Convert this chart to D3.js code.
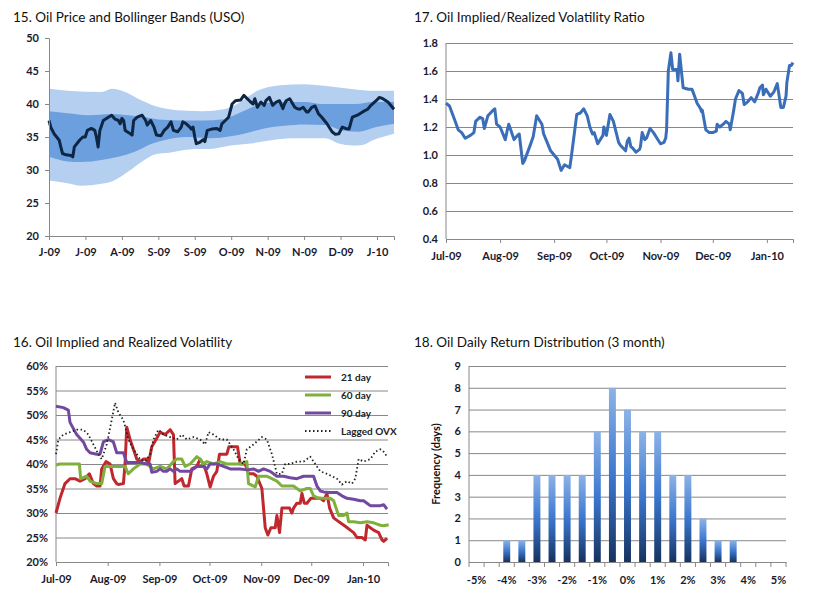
<!DOCTYPE html>
<html><head><meta charset="utf-8">
<script src="https://cdn.jsdelivr.net/npm/d3@7"></script>
<style>
body{margin:0;background:#fff}
text{font-family:Lato,"Open Sans",sans-serif}
.tick text{font-weight:bold;font-size:11px;fill:#1a1a2e}
.title{font-size:13.5px;fill:#111}
</style></head><body>
<script>
// ---- 15. oil price + bollinger (x = trading day index)
let priceIdx = [0,1,2.9,5.9,6.8,7.8,9.8,12.7,13.7,14.6,17.6,19.5,20.9,22.1,24.4,26.4,27.3,28.3,29.3,31.3,34.2,36.1,38.1,40,41,42,43,43.9,46.9,47.9,48.8,50.8,53.7,55.7,56.6,58.6,60.5,61.9,64.5,66.4,68.4,70.3,71.7,74.2,76.2,77.1,79.1,81.1,82,83,84,84.9,86.9,88.9,89.8,91.2,93.8,96.7,98.6,99.6,101.6,103.5,105.5,107.4,110.4,112.3,114.3,116.2,117.6,118.6,120.1,122.1,124,125,127,128.9,130.9,132.8,134.8,135.7,136.7,138.7,141.6,143,144.5,146.5,148.4,149.4,151.4,153.3,155.3,157.2,160.2,163.1,165,167,169,170.9,172.9,174.8,177.7,180.7,183.6,185.5,188.5,190.4,192.4,195.3,198.8];
let priceVal = [37.5,36.5,35.5,34.5,33.5,32.5,32.3,32.2,32,33.5,34.5,35,35,36,36.3,36,35,33.5,36,37.5,38,38.3,37.7,37.5,37,37.8,37.5,36,35.5,35.3,37.5,38,38.3,37.5,36.8,37.5,36.5,35.3,35.2,36,36.5,37.3,36,35.8,36.5,37.3,37,36.5,36.2,36.5,35,34,34.2,34.6,34.3,36,36.2,36.3,36,37,37.5,38,40,40.5,40.6,41.3,40.8,40.3,40,40.8,39.5,40.3,39.8,40.5,41,39.8,40.3,40.5,39.3,40,40.5,40.8,39.5,39.3,39.2,39.5,38.8,38.8,39.5,39.7,38.5,38,37,35.8,35.4,35.5,36.5,36.3,36.2,38,38.3,38.8,39.2,39.8,40.5,41,40.8,40.3,39.2,38.5];
let outerUpIdx = [0,10.7,30.3,36.1,42,53.7,63.5,77.1,88.9,100.6,108.4,120.1,131.8,147.5,157.2,167,176.8,186.5,198.8];
let outerUp = [42.3,42,41.8,42.3,42,40.5,39.5,39,38.9,39.2,40,42,42.8,43,42.8,42.5,42.2,42,42];
let innerUpIdx = [0,10.7,22.5,36.1,45.9,55.7,65.4,77.1,88.9,100.6,108.4,120.1,131.8,147.5,157.2,167,176.8,186.5,198.8];
let innerUp = [38.9,38.6,38.3,38.5,38.3,38,37.6,37.5,37.5,37.7,38.5,39.8,40.3,40.3,40,40,40,40.3,40.3];
let innerLoIdx = [0,10.7,18.6,30.3,40,49.8,59.6,69.3,81.1,92.8,104.5,112.3,124,135.7,147.5,159.2,168.9,178.7,188.5,198.8];
let innerLo = [32,31.3,31.2,31.5,32,32.8,34,34.7,35,34.8,35.1,35.5,36.3,36.7,36.9,36.8,36,35.8,36.5,37];
let outerLoIdx = [0,10.7,18.6,30.3,38.1,45.9,53.7,61.5,69.3,77.1,84.9,92.8,104.5,116.2,127.9,139.6,151.4,159.2,167,174.8,180.7,186.5,198.8];
let outerLo = [28.4,28,27.6,27.9,28.5,29.8,31.3,32.4,32.6,33,33.2,33.2,33.7,34,34.5,34.8,34.8,34.8,34,33.7,33.8,34.5,35.5];
let priceLabels = ["J-09","J-09","A-09","S-09","S-09","O-09","N-09","N-09","D-09","J-10"];

// ---- 17. implied/realized ratio (x = days since 1 Jul 2009)
let ratioDay = [0,2,5,7,9,11,14,16,17,19.5,21,22,24,27,28,29,31,34,35,36,39,41,42,44,45,48,50,52,55,56,57,60,62,64,66,68,69.5,71,72,75,77,79,81,82.5,84,85,87,90,90.5,92,94,96,97,99,100,103,104,105,106,107,109,111,111.5,112.5,114,115,117,119,121,123,125,126,126.5,127.5,129,130,132,132.5,133,134,136,139,141,142,144,146,146.5,147,149,151,153,155,155.5,157,159,160.5,162.5,163,165,166,168,170,171,173,175,177,179,180,181.5,182,183.5,186,188,189,190,192,193.5,195,195.5,197,198,199];
let ratioVal = [1.37,1.35,1.25,1.18,1.16,1.12,1.14,1.16,1.24,1.27,1.26,1.19,1.28,1.32,1.33,1.22,1.2,1.11,1.17,1.22,1.11,1.14,1.15,0.94,0.96,1.06,1.13,1.28,1.22,1.15,1.12,1.03,1.0,0.97,0.89,0.93,0.92,0.91,1.0,1.29,1.3,1.33,1.28,1.2,1.15,1.16,1.08,1.14,1.2,1.14,1.29,1.24,1.19,1.09,1.07,1.03,1.1,1.12,1.06,1.05,1.02,1.04,1.06,1.16,1.11,1.12,1.19,1.16,1.12,1.08,1.09,1.12,1.18,1.6,1.73,1.61,1.61,1.61,1.53,1.72,1.48,1.47,1.47,1.44,1.37,1.33,1.31,1.32,1.18,1.16,1.16,1.17,1.22,1.2,1.22,1.24,1.22,1.18,1.32,1.4,1.46,1.44,1.36,1.38,1.41,1.38,1.44,1.48,1.5,1.43,1.47,1.42,1.45,1.48,1.51,1.34,1.34,1.42,1.52,1.64,1.64,1.66,1.65];

// ---- 16. volatility (x = days since 1 Jul 2009, value in %)
let vol21 = [[0,30],[2.4,33],[5.4,36],[8.4,37],[11.4,37],[14.4,36.5],[17.4,37],[20,38],[22.4,36],[24.4,35.5],[26.4,35.5],[27.4,39],[30,40.5],[32.4,40],[34.4,37],[36.4,36],[37.4,35.8],[40.4,36],[41.4,40],[42.4,47.5],[44.4,45],[46.4,43],[48.4,41],[50.4,40.5],[52.4,41],[54.4,41],[55.4,40],[57.4,43.5],[60,45],[62.4,46.5],[65.4,46],[68.4,47],[70.4,46],[71.4,36],[73.4,36.5],[75.4,37],[76.8,35.5],[79.4,35.5],[81.4,39],[84.4,39.5],[86.4,41],[88.4,40],[90.4,38],[92.4,35.3],[94.4,37.5],[96.4,38.5],[98,42],[100,42],[102.4,42],[103.6,43.5],[106.4,43.5],[108.8,43.5],[110.4,40],[113.4,40],[115.4,38],[118.4,38],[120.4,37.5],[123.4,35],[125.4,27],[127,25.5],[128.8,27],[131.4,27],[132.4,29.5],[134,26],[135.4,31],[137.4,31],[140,31],[141.4,30],[142.4,31],[144.4,32],[146.4,32],[147.4,34],[148.8,32],[150.4,32],[152.8,33],[155.4,33],[158.4,33],[160.4,32.5],[162.4,34],[164,31],[166.4,29],[168.4,28.5],[170.4,28],[173.4,27.3],[176.4,26.5],[178.4,26],[180.4,25],[183.4,25],[185.4,24.5],[186.4,27.5],[188.4,27],[190.4,26.5],[193.4,26],[195.4,24.5],[196.4,24.2],[198.4,24.8]];
let vol60 = [[0,39.8],[2.4,40],[6.4,40],[11.4,40],[14,40],[14.8,37],[18.4,37.5],[20.4,36.5],[24.4,36],[27.4,36],[29.4,39.5],[32.4,39.5],[38.4,39.5],[41.4,39.5],[43.4,38],[46.4,39],[50.4,40],[54.4,40],[56.4,39.5],[58.4,39],[62.4,39.5],[66.4,39],[70.4,40.5],[72.4,41],[75.4,41],[77.4,39.5],[80.4,40],[84.4,41.5],[86.4,41],[88.4,40],[90.4,40.5],[94.4,40],[98.4,40.5],[102.4,40],[106.4,40],[110.4,40],[114.4,40.5],[115.4,36],[118.4,35.5],[119.4,35.3],[121.4,37.5],[124.4,37.5],[126.4,37.5],[129.4,37],[132.4,36.5],[135.4,35.5],[138.4,35.5],[142.4,35.5],[146.4,34.5],[150.4,35],[152.4,35],[154.4,33.5],[157.4,33],[164.4,33],[166.4,32.5],[169.4,29.5],[172.4,29.5],[174.4,30],[175.4,28.2],[178.4,28.2],[182.4,28],[186.4,28.2],[190.4,28],[194.4,27.5],[196.4,27.4],[199.4,27.6]];
let vol90 = [[0,51.8],[4.4,51.5],[7.4,51],[8.4,48.5],[12.4,46],[16.4,44.5],[18.4,43],[20.4,42.3],[24.4,42],[26.4,42],[28.4,44.5],[31.4,45],[34.4,44.5],[36.4,42.3],[40.4,42.3],[42.4,40.3],[50.4,40.3],[54.4,40],[56.4,40],[57.4,38.3],[60.4,38.5],[62.4,39],[64.4,38.5],[66.4,38.5],[68.4,39],[70.4,38.5],[72.4,39],[74.4,38.5],[80.4,38.5],[84.4,39.5],[88.4,39.5],[90.4,39],[92.4,40],[96.4,40],[100.4,39.5],[104.4,39],[110.4,39],[114.4,38.8],[118.4,39],[121.4,38.5],[124.4,39],[128.4,38.5],[132.4,37.5],[136.4,37.5],[140.4,37.2],[144.4,37],[148.4,37.5],[152.4,37.5],[154.4,37.5],[156.4,35.5],[158.4,34.5],[160.4,34.3],[164.4,34.2],[168.4,34.2],[171.4,33.5],[174.4,33],[178.4,32.8],[182.4,32.5],[184.4,32.5],[186.4,32],[188.4,31.5],[192.4,31.5],[194.4,31.5],[196.4,31.7],[198.4,30.8]];
let ovx = [[0,42],[1.4,45],[4.4,46],[8.4,46.5],[12.4,47],[16.4,47],[19.4,46],[22.4,44],[25.4,42],[27.4,41],[30.4,44],[33.4,49],[35.4,52.5],[37.4,50.5],[40.4,49],[43.4,45],[46.4,43],[50.4,41],[53.4,40.5],[56.4,42],[58.4,45],[61.4,47],[64.4,46],[68.4,45.5],[72.4,45],[75.4,46],[78.4,45],[82.4,45.5],[86.4,45],[89.4,44],[91.4,46.5],[94.4,46],[98.4,45],[102.4,45],[106.4,43],[109.4,41],[112.4,40],[114.4,43],[118.4,44],[123.4,45.5],[126.4,45],[129.4,42],[132.4,38],[135.4,38],[137.4,40],[140.4,40],[144.4,40.5],[148.4,40.5],[152.4,41.5],[155.4,40],[158.4,38.5],[162.4,38],[165.4,37.5],[168.4,37],[171.4,35.8],[174.4,36.5],[177.4,36],[179.4,37],[181.4,41],[184.4,40.5],[188.4,41],[191.4,42.5],[194.4,43],[196.4,42.5],[198.4,41.5]];
let volNames = ["21 day","60 day","90 day","Lagged OVX"];
let volColors = ["#c0282d","#7fb03c","#7348a0","#222"];

// ---- 18. return distribution
let retBins = [-5,-4.5,-4,-3.5,-3,-2.5,-2,-1.5,-1,-0.5,0,0.5,1,1.5,2,2.5,3,3.5,4,4.5,5];
let retFreq = [0,0,1,1,4,4,4,4,6,8,7,6,6,4,4,2,1,1,0,0,0];

const svg = d3.select("body").append("svg").attr("width",825).attr("height",605);
const start = new Date(2009,6,1);
const day = d => d3.timeDay.offset(start, 0) .getTime() + d*864e5;
const fmtMon = d3.timeFormat("%b-%y");

// gradient for histogram
const grad = svg.append("defs").append("linearGradient").attr("id","bar").attr("x1",0).attr("x2",0).attr("y1",0).attr("y2",1);
grad.append("stop").attr("offset","0%").attr("stop-color","#8db3e6");
grad.append("stop").attr("offset","50%").attr("stop-color","#3c78cf");
grad.append("stop").attr("offset","100%").attr("stop-color","#16325f");

function title(x,y,t){ svg.append("text").attr("class","title").attr("x",x).attr("y",y).text(t); }
function styleAxis(g){ g.selectAll(".domain").attr("stroke","#888"); g.selectAll(".tick line").attr("stroke","#888"); }

// ===== Chart 15
title(13,22,"15. Oil Price and Bollinger Bands (USO)");
{
  const x = d3.scaleLinear().domain([0,198.8]).range([49,394]);
  const y = d3.scaleLinear().domain([20,50]).range([236,38]);
  const band = (upI,up,loI,lo) => {
    const u = upI.map((d,i)=>[x(d),y(up[i])]);
    const l = loI.map((d,i)=>[x(d),y(lo[i])]).reverse();
    const line = d3.line().curve(d3.curveMonotoneX);
    const lineR = d3.line().curve(d3.curveMonotoneX);
    const p1 = line(u), p2 = lineR(l).replace(/^M/,"L");
    return p1 + p2 + "Z";
  };
  svg.append("path").attr("d",band(outerUpIdx,outerUp,outerLoIdx,outerLo)).attr("fill","#b5cff0");
  svg.append("path").attr("d",band(innerUpIdx,innerUp,innerLoIdx,innerLo)).attr("fill","#6c9fde");
  svg.append("path").datum(priceIdx.map((d,i)=>[d,priceVal[i]]))
    .attr("d",d3.line().x(d=>x(d[0])).y(d=>y(d[1])))
    .attr("fill","none").attr("stroke","#0e2644").attr("stroke-width",3).attr("stroke-linejoin","round");
  const ya = svg.append("g").attr("transform","translate(49,0)").call(d3.axisLeft(y).tickValues(d3.range(20,51,5)).tickSize(4).tickPadding(6));
  const xa = svg.append("g").attr("transform","translate(0,236)").call(d3.axisBottom(x).tickValues(d3.range(0,190,21)).tickFormat((d,i)=>priceLabels[i]).tickSize(4).tickPadding(8));
  styleAxis(ya); styleAxis(xa);
}

// ===== Chart 17
title(414,22,"17. Oil Implied/Realized Volatility Ratio");
{
  const x = d3.scaleTime().domain([day(0),day(199)]).range([446,793]);
  const y = d3.scaleLinear().domain([0.4,1.8]).range([239,43]);
  svg.append("g").attr("transform","translate(446,0)").call(d3.axisLeft(y).tickValues(d3.range(0.4,1.81,0.2)).tickSize(-347).tickFormat(d3.format(".1f")).tickPadding(8))
    .call(g=>{g.select(".domain").remove(); g.selectAll(".tick line").attr("stroke","#888");});
  const xa = svg.append("g").attr("transform","translate(0,239)").call(d3.axisBottom(x).ticks(d3.timeMonth.every(1)).tickFormat(fmtMon).tickSize(4).tickPadding(9));
  styleAxis(xa);
  svg.append("line").attr("x1",446).attr("x2",446).attr("y1",43).attr("y2",239).attr("stroke","#888");
  svg.append("path").datum(ratioDay.map((d,i)=>[d,ratioVal[i]]))
    .attr("d",d3.line().x(d=>x(day(d[0]))).y(d=>y(d[1])))
    .attr("fill","none").attr("stroke","#3a6eb8").attr("stroke-width",3).attr("stroke-linejoin","round");
}

// ===== Chart 16
title(13,347,"16. Oil Implied and Realized Volatility");
{
  const x = d3.scaleTime().domain([day(0),day(199)]).range([56,388]);
  const y = d3.scaleLinear().domain([20,60]).range([562,366]);
  svg.append("g").attr("transform","translate(56,0)").call(d3.axisLeft(y).tickValues(d3.range(20,61,5)).tickSize(-332).tickFormat(d=>d+"%").tickPadding(8))
    .call(g=>{g.select(".domain").remove(); g.selectAll(".tick line").attr("stroke","#888");});
  const xa = svg.append("g").attr("transform","translate(0,562)").call(d3.axisBottom(x).ticks(d3.timeMonth.every(1)).tickFormat(fmtMon).tickSize(4).tickPadding(9));
  styleAxis(xa);
  svg.append("line").attr("x1",56).attr("x2",56).attr("y1",366).attr("y2",562).attr("stroke","#888");
  const line = d3.line().x(d=>x(day(d[0]))).y(d=>y(d[1]));
  [vol21,vol60,vol90,ovx].forEach((s,i)=>{
    const p = svg.append("path").datum(s).attr("d",line).attr("fill","none")
      .attr("stroke",volColors[i]).attr("stroke-linejoin","round");
    if(i==3) p.attr("stroke-width",1.8).attr("stroke-dasharray","1.5,2.5");
    else p.attr("stroke-width",3);
  });
  const lg = svg.append("g");
  volNames.forEach((n,i)=>{
    const yy = 377 + i*18;
    const l = lg.append("line").attr("x1",305).attr("x2",331).attr("y1",yy).attr("y2",yy).attr("stroke",volColors[i]);
    if(i==3) l.attr("stroke-width",2).attr("stroke-dasharray","1.5,2.5"); else l.attr("stroke-width",3);
    lg.append("text").attr("x",341).attr("y",yy+4).attr("font-size",10).attr("font-weight","bold").attr("fill","#222").text(n);
  });
}

// ===== Chart 18
title(414,347,"18. Oil Daily Return Distribution (3 month)");
{
  const x = d3.scaleBand().domain(retBins).range([469,786]);
  const y = d3.scaleLinear().domain([0,9]).range([562,366]);
  svg.append("g").attr("transform","translate(469,0)").call(d3.axisLeft(y).ticks(9).tickSize(-317).tickPadding(8))
    .call(g=>{g.select(".domain").remove(); g.selectAll(".tick line").attr("stroke","#888");});
  svg.append("line").attr("x1",469).attr("x2",469).attr("y1",366).attr("y2",562).attr("stroke","#888");
  svg.selectAll("rect.bar").data(retFreq).enter().append("rect").attr("class","bar")
    .attr("x",(d,i)=>x(retBins[i])+x.bandwidth()*0.27)
    .attr("width",x.bandwidth()*0.46)
    .attr("y",d=>y(d)).attr("height",d=>562-y(d))
    .attr("fill","url(#bar)");
  const xa = svg.append("g").attr("transform","translate(0,562)")
    .call(d3.axisBottom(x).tickSize(0).tickPadding(14).tickFormat(d=>Number.isInteger(d)?d+"%":""));
  xa.select(".domain").attr("stroke","#888");
  svg.selectAll("line.bt").data(d3.range(22)).enter().append("line").attr("class","bt")
    .attr("x1",i=>469+i*x.step()).attr("x2",i=>469+i*x.step()).attr("y1",562).attr("y2",567).attr("stroke","#888");
  svg.append("text").attr("transform","translate(440,464) rotate(-90)").attr("text-anchor","middle")
    .attr("font-size",11).attr("font-weight","bold").attr("fill","#111").text("Frequency (days)");
}
</script>
</body></html>
